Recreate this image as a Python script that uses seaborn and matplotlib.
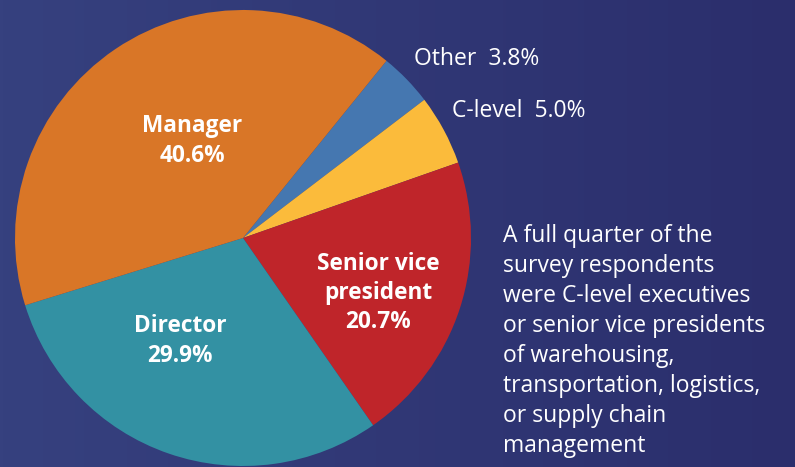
import numpy as np
import matplotlib.pyplot as plt
import seaborn as sns

# Role of survey respondents
roles = ['Other', 'C-level', 'Senior vice\npresident', 'Director', 'Manager']
shares = [3.8, 5.0, 20.7, 29.9, 40.6]
slice_colors = ['#4577b0', '#fbbb3b', '#bf252a', '#3391a3', '#d97627']
note = ('A full quarter of the\nsurvey respondents\nwere C-level executives\n'
        'or senior vice presidents\nof warehousing,\ntransportation, logistics,\n'
        'or supply chain\nmanagement')

sns.set_theme(style='white')
plt.rcParams['font.family'] = ['Open Sans', 'DejaVu Sans']
palette = sns.color_palette(slice_colors)

fig = plt.figure(figsize=(7.95, 4.67), dpi=100)

# background gradient
bg = fig.add_axes([0, 0, 1, 1])
grad = np.linspace(0, 1, 256).reshape(1, -1)
cmap = sns.blend_palette(['#36417f', '#2b2e6c'], as_cmap=True)
bg.imshow(grad, aspect='auto', cmap=cmap, extent=[0, 1, 0, 1])
bg.set_axis_off()

W, H = 795, 467
cx, cy, r = 243, 238, 228
ax = fig.add_axes([(cx - r) / W, (H - cy - r) / H, 2 * r / W, 2 * r / H])
ax.pie(shares, colors=palette, startangle=51, counterclock=False, radius=1,
       wedgeprops=dict(linewidth=0))
ax.set_xlim(-1, 1)
ax.set_ylim(-1, 1)
ax.set_axis_off()

def to_data(px, py):
    return (px - cx) / r, (cy - py) / r

lab = {roles[i]: f'{roles[i]}\n{shares[i]:.1f}%' for i in range(len(roles))}
inside = {'Manager': (192, 141), 'Director': (180, 341), 'Senior vice\npresident': (378, 293)}
for name, (px, py) in inside.items():
    x, y = to_data(px, py)
    ax.text(x, y, lab[name], ha='center', va='center', color='white',
            fontsize=16.3, fontweight='bold', linespacing=1.3)

outside = {'Other': (414, 59), 'C-level': (452, 111)}
for name, (px, py) in outside.items():
    x, y = to_data(px, py)
    v = shares[roles.index(name)]
    ax.text(x, y, f'{name}  {v:.1f}%', ha='left', va='center', color='white',
            fontsize=16.5, clip_on=False)

fig.text(503 / W, 1 - 224 / H, note, ha='left', va='top', color='white',
         fontsize=16.5, linespacing=1.33)

fig.savefig('out.png', dpi=100)
plt.close()
